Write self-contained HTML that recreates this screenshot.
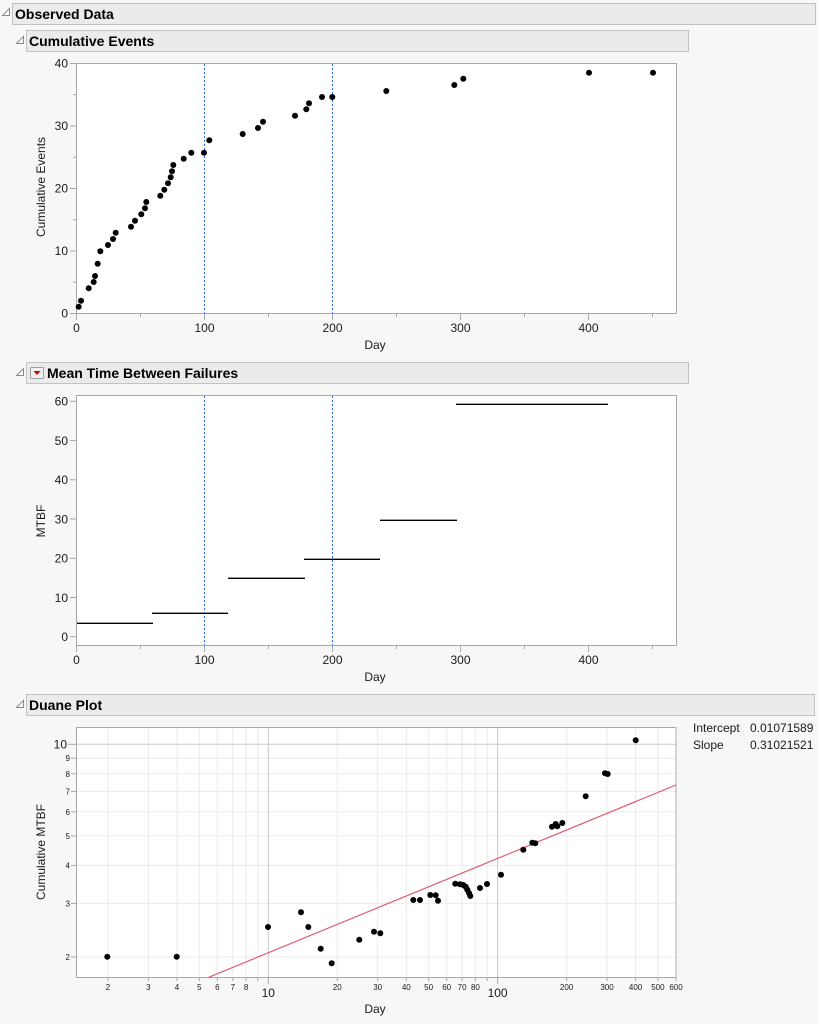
<!DOCTYPE html>
<html><head><meta charset="utf-8"><style>
html,body{margin:0;padding:0;background:#f7f7f7;}
svg{display:block;}
text{font-family:"Liberation Sans",sans-serif;}
</style></head><body>
<svg width="818" height="1024" viewBox="0 0 818 1024" xmlns="http://www.w3.org/2000/svg">
<rect x="0" y="0" width="818" height="1024" fill="#f7f7f7"/>

<!-- Headers -->
<rect x="12.5" y="3.5" width="803" height="21" fill="#ebebeb" stroke="#c2c2c2"/>
<polygon points="2.5,15.5 9.5,8.5 9.5,15.5" fill="#fff" stroke="#8a8a8a"/>
<text x="15" y="19" font-size="14" font-weight="bold" fill="#000">Observed Data</text>

<rect x="26.5" y="30.5" width="662" height="21" fill="#ebebeb" stroke="#c2c2c2"/>
<polygon points="16.5,43.5 23.5,36.5 23.5,43.5" fill="#fff" stroke="#8a8a8a"/>
<text x="29" y="46" font-size="14" font-weight="bold" fill="#000">Cumulative Events</text>

<rect x="26.5" y="362.5" width="662" height="21" fill="#ebebeb" stroke="#c2c2c2"/>
<polygon points="16.5,375.5 23.5,368.5 23.5,375.5" fill="#fff" stroke="#8a8a8a"/>
<rect x="30.5" y="367.5" width="13" height="11" fill="#f0f0f0" stroke="#a0a0a0" rx="1"/>
<polygon points="33.5,371 40.5,371 37,375" fill="#d00000"/>
<text x="47" y="378" font-size="14" font-weight="bold" fill="#000">Mean Time Between Failures</text>

<rect x="26.5" y="694.5" width="788" height="21" fill="#ebebeb" stroke="#c2c2c2"/>
<polygon points="16.5,707.5 23.5,700.5 23.5,707.5" fill="#fff" stroke="#8a8a8a"/>
<text x="29" y="710" font-size="14" font-weight="bold" fill="#000">Duane Plot</text>

<!-- ============ Cumulative Events plot ============ -->
<rect x="76.5" y="63.5" width="600" height="250" fill="#fff" stroke="#a8a8a8"/>
<g stroke="#2a6cff" stroke-width="1" stroke-dasharray="2,2">
<line x1="204.5" y1="64" x2="204.5" y2="313"/>
<line x1="332.5" y1="64" x2="332.5" y2="313"/>
</g>
<g stroke="#a8a8a8" stroke-width="1">
<line x1="70" y1="313.5" x2="76" y2="313.5"/>
<line x1="70" y1="251" x2="76" y2="251"/>
<line x1="70" y1="188.5" x2="76" y2="188.5"/>
<line x1="70" y1="126" x2="76" y2="126"/>
<line x1="70" y1="63.5" x2="76" y2="63.5"/>
<line x1="73" y1="282" x2="76" y2="282"/>
<line x1="73" y1="219.7" x2="76" y2="219.7"/>
<line x1="73" y1="157.2" x2="76" y2="157.2"/>
<line x1="73" y1="94.7" x2="76" y2="94.7"/>
<line x1="76.5" y1="314" x2="76.5" y2="320"/>
<line x1="204.5" y1="314" x2="204.5" y2="320"/>
<line x1="332.5" y1="314" x2="332.5" y2="320"/>
<line x1="460.5" y1="314" x2="460.5" y2="320"/>
<line x1="588.5" y1="314" x2="588.5" y2="320"/>
<line x1="140.5" y1="314" x2="140.5" y2="317"/>
<line x1="268.5" y1="314" x2="268.5" y2="317"/>
<line x1="396.5" y1="314" x2="396.5" y2="317"/>
<line x1="524.5" y1="314" x2="524.5" y2="317"/>
<line x1="652.5" y1="314" x2="652.5" y2="317"/>
</g>
<g font-size="12" fill="#1a1a1a" text-anchor="end">
<text x="68" y="317.5">0</text>
<text x="68" y="255">10</text>
<text x="68" y="192.5">20</text>
<text x="68" y="130">30</text>
<text x="68" y="67.5">40</text>
</g>
<g font-size="12" fill="#1a1a1a" text-anchor="middle">
<text x="76.5" y="332">0</text>
<text x="204.5" y="332">100</text>
<text x="332.5" y="332">200</text>
<text x="460.5" y="332">300</text>
<text x="588.5" y="332">400</text>
<text x="375" y="349">Day</text>
</g>
<text transform="translate(45,187) rotate(-90)" font-size="12" fill="#1a1a1a" text-anchor="middle">Cumulative Events</text>
<g fill="#000">
<circle cx="78.7" cy="306.7" r="3"/><circle cx="81" cy="300.7" r="3"/><circle cx="88.7" cy="288.3" r="3"/>
<circle cx="93.7" cy="282" r="3"/><circle cx="95" cy="276" r="3"/><circle cx="97.7" cy="263.7" r="3"/>
<circle cx="100.3" cy="251.3" r="3"/><circle cx="108" cy="245" r="3"/><circle cx="113" cy="239" r="3"/>
<circle cx="115.7" cy="232.7" r="3"/><circle cx="131" cy="226.7" r="3"/><circle cx="135" cy="220.7" r="3"/>
<circle cx="141.3" cy="214.3" r="3"/><circle cx="145" cy="208.3" r="3"/><circle cx="146.3" cy="202" r="3"/>
<circle cx="160.3" cy="195.7" r="3"/><circle cx="164.3" cy="189.7" r="3"/><circle cx="168" cy="183.3" r="3"/>
<circle cx="170.7" cy="177.3" r="3"/><circle cx="172" cy="171.3" r="3"/><circle cx="173.3" cy="165" r="3"/>
<circle cx="183.7" cy="158.7" r="3"/><circle cx="191.3" cy="152.7" r="3"/><circle cx="204" cy="152.7" r="3"/>
<circle cx="209.3" cy="140.3" r="3"/><circle cx="242.7" cy="134" r="3"/><circle cx="258" cy="128" r="3"/>
<circle cx="263" cy="121.7" r="3"/><circle cx="295" cy="115.7" r="3"/><circle cx="306.3" cy="109.3" r="3"/>
<circle cx="309" cy="103.3" r="3"/><circle cx="322" cy="97" r="3"/><circle cx="332.3" cy="97" r="3"/>
<circle cx="386.3" cy="91" r="3"/><circle cx="454.3" cy="85" r="3"/><circle cx="463.3" cy="78.7" r="3"/>
<circle cx="589" cy="72.7" r="3"/><circle cx="653" cy="72.7" r="3"/>
</g>

<!-- ============ MTBF plot ============ -->
<rect x="76.5" y="395.5" width="600" height="250" fill="#fff" stroke="#a8a8a8"/>
<g stroke="#2a6cff" stroke-width="1" stroke-dasharray="2,2">
<line x1="204.5" y1="396" x2="204.5" y2="645"/>
<line x1="332.5" y1="396" x2="332.5" y2="645"/>
</g>
<g stroke="#a8a8a8" stroke-width="1">
<line x1="70" y1="636.7" x2="76" y2="636.7"/>
<line x1="70" y1="597.5" x2="76" y2="597.5"/>
<line x1="70" y1="558.3" x2="76" y2="558.3"/>
<line x1="70" y1="519" x2="76" y2="519"/>
<line x1="70" y1="479.8" x2="76" y2="479.8"/>
<line x1="70" y1="440.6" x2="76" y2="440.6"/>
<line x1="70" y1="401.3" x2="76" y2="401.3"/>
<line x1="76.5" y1="646" x2="76.5" y2="652"/>
<line x1="204.5" y1="646" x2="204.5" y2="652"/>
<line x1="332.5" y1="646" x2="332.5" y2="652"/>
<line x1="460.5" y1="646" x2="460.5" y2="652"/>
<line x1="588.5" y1="646" x2="588.5" y2="652"/>
<line x1="140.5" y1="646" x2="140.5" y2="649"/>
<line x1="268.5" y1="646" x2="268.5" y2="649"/>
<line x1="396.5" y1="646" x2="396.5" y2="649"/>
<line x1="524.5" y1="646" x2="524.5" y2="649"/>
<line x1="652.5" y1="646" x2="652.5" y2="649"/>
</g>
<g font-size="12" fill="#1a1a1a" text-anchor="end">
<text x="68" y="641">0</text>
<text x="68" y="601.8">10</text>
<text x="68" y="562.6">20</text>
<text x="68" y="523.3">30</text>
<text x="68" y="484.1">40</text>
<text x="68" y="444.9">50</text>
<text x="68" y="405.6">60</text>
</g>
<g font-size="12" fill="#1a1a1a" text-anchor="middle">
<text x="76.5" y="664">0</text>
<text x="204.5" y="664">100</text>
<text x="332.5" y="664">200</text>
<text x="460.5" y="664">300</text>
<text x="588.5" y="664">400</text>
<text x="375" y="681">Day</text>
</g>
<text transform="translate(45,521) rotate(-90)" font-size="12" fill="#1a1a1a" text-anchor="middle">MTBF</text>
<g stroke="#000" stroke-width="1.4">
<line x1="77" y1="623.3" x2="153" y2="623.3"/>
<line x1="152" y1="613.3" x2="228" y2="613.3"/>
<line x1="228" y1="578.3" x2="305" y2="578.3"/>
<line x1="304" y1="559.3" x2="380" y2="559.3"/>
<line x1="380" y1="520.3" x2="457" y2="520.3"/>
<line x1="456" y1="404.3" x2="608" y2="404.3"/>
</g>

<!-- ============ Duane plot ============ -->
<rect x="76.5" y="727.5" width="599.5" height="250" fill="#fff"/>
<g stroke="#ebebeb" stroke-width="1">
<line x1="108" y1="728" x2="108" y2="977"/>
<line x1="148.4" y1="728" x2="148.4" y2="977"/>
<line x1="177" y1="728" x2="177" y2="977"/>
<line x1="199.3" y1="728" x2="199.3" y2="977"/>
<line x1="217.4" y1="728" x2="217.4" y2="977"/>
<line x1="232.8" y1="728" x2="232.8" y2="977"/>
<line x1="246.1" y1="728" x2="246.1" y2="977"/>
<line x1="257.8" y1="728" x2="257.8" y2="977"/>
<line x1="337.3" y1="728" x2="337.3" y2="977"/>
<line x1="377.7" y1="728" x2="377.7" y2="977"/>
<line x1="406.3" y1="728" x2="406.3" y2="977"/>
<line x1="428.6" y1="728" x2="428.6" y2="977"/>
<line x1="446.7" y1="728" x2="446.7" y2="977"/>
<line x1="462.1" y1="728" x2="462.1" y2="977"/>
<line x1="475.4" y1="728" x2="475.4" y2="977"/>
<line x1="487.1" y1="728" x2="487.1" y2="977"/>
<line x1="566.6" y1="728" x2="566.6" y2="977"/>
<line x1="607" y1="728" x2="607" y2="977"/>
<line x1="635.6" y1="728" x2="635.6" y2="977"/>
<line x1="657.9" y1="728" x2="657.9" y2="977"/>
<line x1="77" y1="957" x2="676" y2="957"/>
<line x1="77" y1="903.4" x2="676" y2="903.4"/>
<line x1="77" y1="865.4" x2="676" y2="865.4"/>
<line x1="77" y1="835.9" x2="676" y2="835.9"/>
<line x1="77" y1="811.8" x2="676" y2="811.8"/>
<line x1="77" y1="791.4" x2="676" y2="791.4"/>
<line x1="77" y1="773.8" x2="676" y2="773.8"/>
<line x1="77" y1="758.2" x2="676" y2="758.2"/>
</g>
<g stroke="#c8c8c8" stroke-width="1">
<line x1="268.3" y1="728" x2="268.3" y2="977"/>
<line x1="497.6" y1="728" x2="497.6" y2="977"/>
<line x1="77" y1="744.3" x2="676" y2="744.3"/>
</g>
<rect x="76.5" y="727.5" width="599.5" height="250" fill="none" stroke="#a8a8a8"/>
<g stroke="#a8a8a8" stroke-width="1">
<line x1="71" y1="957" x2="76" y2="957"/>
<line x1="71" y1="903.4" x2="76" y2="903.4"/>
<line x1="71" y1="865.4" x2="76" y2="865.4"/>
<line x1="71" y1="835.9" x2="76" y2="835.9"/>
<line x1="71" y1="811.8" x2="76" y2="811.8"/>
<line x1="71" y1="791.4" x2="76" y2="791.4"/>
<line x1="71" y1="773.8" x2="76" y2="773.8"/>
<line x1="71" y1="758.2" x2="76" y2="758.2"/>
<line x1="68" y1="744.3" x2="76" y2="744.3"/>
<line x1="108" y1="978" x2="108" y2="981"/>
<line x1="148.4" y1="978" x2="148.4" y2="981"/>
<line x1="177" y1="978" x2="177" y2="981"/>
<line x1="199.3" y1="978" x2="199.3" y2="981"/>
<line x1="217.4" y1="978" x2="217.4" y2="981"/>
<line x1="232.8" y1="978" x2="232.8" y2="981"/>
<line x1="246.1" y1="978" x2="246.1" y2="981"/>
<line x1="257.8" y1="978" x2="257.8" y2="981"/>
<line x1="268.3" y1="978" x2="268.3" y2="984"/>
<line x1="337.3" y1="978" x2="337.3" y2="981"/>
<line x1="377.7" y1="978" x2="377.7" y2="981"/>
<line x1="406.3" y1="978" x2="406.3" y2="981"/>
<line x1="428.6" y1="978" x2="428.6" y2="981"/>
<line x1="446.7" y1="978" x2="446.7" y2="981"/>
<line x1="462.1" y1="978" x2="462.1" y2="981"/>
<line x1="475.4" y1="978" x2="475.4" y2="981"/>
<line x1="487.1" y1="978" x2="487.1" y2="981"/>
<line x1="497.6" y1="978" x2="497.6" y2="984"/>
<line x1="566.6" y1="978" x2="566.6" y2="981"/>
<line x1="607" y1="978" x2="607" y2="981"/>
<line x1="635.6" y1="978" x2="635.6" y2="981"/>
<line x1="657.9" y1="978" x2="657.9" y2="981"/>
<line x1="676" y1="978" x2="676" y2="981"/>
</g>
<g font-size="8" fill="#1a1a1a" text-anchor="end">
<text x="70" y="960">2</text>
<text x="70" y="906.4">3</text>
<text x="70" y="868.4">4</text>
<text x="70" y="838.9">5</text>
<text x="70" y="814.8">6</text>
<text x="70" y="794.4">7</text>
<text x="70" y="776.8">8</text>
<text x="70" y="761.2">9</text>
</g>
<text x="67" y="748.5" font-size="12" fill="#1a1a1a" text-anchor="end">10</text>
<g font-size="8" fill="#1a1a1a" text-anchor="middle">
<text x="108" y="990">2</text>
<text x="148.4" y="990">3</text>
<text x="177" y="990">4</text>
<text x="199.3" y="990">5</text>
<text x="217.4" y="990">6</text>
<text x="232.8" y="990">7</text>
<text x="246.1" y="990">8</text>
<text x="337.3" y="990">20</text>
<text x="377.7" y="990">30</text>
<text x="406.3" y="990">40</text>
<text x="428.6" y="990">50</text>
<text x="446.7" y="990">60</text>
<text x="462.1" y="990">70</text>
<text x="475.4" y="990">80</text>
<text x="566.6" y="990">200</text>
<text x="607" y="990">300</text>
<text x="635.6" y="990">400</text>
<text x="657.9" y="990">500</text>
<text x="676" y="990">600</text>
</g>
<g font-size="12" fill="#1a1a1a" text-anchor="middle">
<text x="268.3" y="997">10</text>
<text x="497.6" y="997">100</text>
<text x="375" y="1013">Day</text>
</g>
<text transform="translate(45,852) rotate(-90)" font-size="12" fill="#1a1a1a" text-anchor="middle">Cumulative MTBF</text>
<line x1="208.7" y1="977.3" x2="676" y2="785" stroke="#e05a6a" stroke-width="1.2"/>
<g fill="#000">
<circle cx="107.3" cy="956.7" r="3"/><circle cx="176.7" cy="956.7" r="3"/><circle cx="268" cy="927" r="3"/>
<circle cx="301" cy="912.3" r="3"/><circle cx="308.3" cy="927" r="3"/><circle cx="320.7" cy="948.7" r="3"/>
<circle cx="331.7" cy="963.3" r="3"/><circle cx="359.3" cy="939.7" r="3"/><circle cx="374" cy="931.7" r="3"/>
<circle cx="380.3" cy="933.3" r="3"/><circle cx="413.3" cy="900" r="3"/><circle cx="420" cy="900" r="3"/>
<circle cx="430.3" cy="895" r="3"/><circle cx="435.7" cy="895.3" r="3"/><circle cx="438" cy="900.7" r="3"/>
<circle cx="455.3" cy="883.7" r="3"/><circle cx="460" cy="884.3" r="3"/><circle cx="463.3" cy="885" r="3"/>
<circle cx="465.7" cy="886.7" r="3"/><circle cx="467.3" cy="889.7" r="3"/><circle cx="469" cy="893" r="3"/>
<circle cx="470.3" cy="896" r="3"/><circle cx="480" cy="888" r="3"/><circle cx="487" cy="884" r="3"/>
<circle cx="501" cy="874.7" r="3"/><circle cx="523.3" cy="849.7" r="3"/><circle cx="532.3" cy="842.7" r="3"/>
<circle cx="535.3" cy="843.3" r="3"/><circle cx="552" cy="826.7" r="3"/><circle cx="555.7" cy="824" r="3"/>
<circle cx="557.3" cy="826.3" r="3"/><circle cx="562.3" cy="823" r="3"/><circle cx="585.7" cy="796.3" r="3"/>
<circle cx="605" cy="773.3" r="3"/><circle cx="607.7" cy="774" r="3"/><circle cx="635.7" cy="740.3" r="3"/>
</g>
<g font-size="12" fill="#1a1a1a">
<text x="693" y="732">Intercept</text>
<text x="750" y="732">0.01071589</text>
<text x="693" y="749">Slope</text>
<text x="750" y="749">0.31021521</text>
</g>
</svg>
</body></html>
